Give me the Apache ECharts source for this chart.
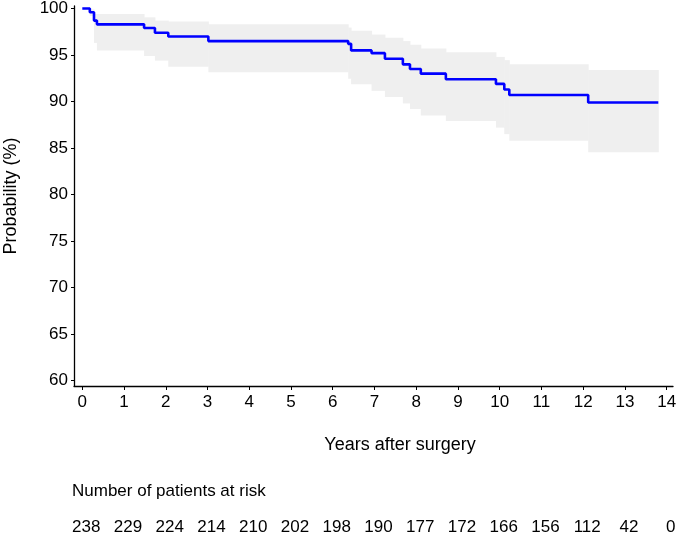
<!DOCTYPE html>
<html>
<head>
<meta charset="utf-8">
<script src="https://cdn.jsdelivr.net/npm/echarts@6/dist/echarts.min.js"></script>
<style>
  html, body { margin: 0; padding: 0; background: #fff; }
  #chart { width: 680px; height: 534px; }
</style>
</head>
<body>
<div id="chart"></div>
<script>
// Kaplan-Meier estimate, years after surgery
const times = [0, 0.18, 0.28, 0.35, 1.48, 1.74, 2.06, 3.02, 6.37, 6.44, 6.93, 7.25, 7.68, 7.85, 8.11, 8.71, 9.91, 10.11, 10.23, 12.12, 13.80]
const surv = [100, 99.6, 98.7, 98.3, 97.9, 97.4, 97.0, 96.5, 96.2, 95.5, 95.2, 94.6, 94.0, 93.5, 93.0, 92.4, 91.9, 91.3, 90.7, 89.9, 89.9]
// confidence band
const upper = [100, 99.9, 99.4, 99.4, 99.05, 98.7, 98.6, 98.3, 97.95, 97.6, 97.2, 96.85, 96.5, 96.1, 95.7, 95.3, 94.8, 94.45, 94.0, 93.4, 93.4]
const lower = [100, 99.2, 96.3, 95.5, 94.9, 94.4, 93.75, 93.15, 92.45, 91.85, 91.15, 90.5, 89.8, 89.2, 88.5, 87.9, 87.2, 86.5, 85.8, 84.55, 84.55]

// axis ticks
const xTicks = [0, 1, 2, 3, 4, 5, 6, 7, 8, 9, 10, 11, 12, 13, 14]
const yTicks = [60, 65, 70, 75, 80, 85, 90, 95, 100]

// number at risk table
const riskYears = [0, 1, 2, 3, 4, 5, 6, 7, 8, 9, 10, 11, 12, 13, 14]
const atRisk = [238, 229, 224, 214, 210, 202, 198, 190, 177, 172, 166, 156, 112, 42, 0]

const FONT = 'Liberation Sans, Arial, sans-serif'

const chart = echarts.init(document.getElementById('chart'))

// one rectangle per interval between consecutive event times
const bandData = times.slice(0, -1).map((t, i) => [t, times[i + 1], lower[i], upper[i]])

const option = {
  animation: false,
  grid: [
    { left: 74, right: 7, top: 6, bottom: 148, outerBoundsMode: 'none' },
    { left: 74, right: 7, top: 520, height: 14, outerBoundsMode: 'none' }
  ],
  xAxis: [
    {
      type: 'value',
      gridIndex: 0,
      min: -0.199,
      max: 14.152,
      splitLine: { show: false },
      axisLine: { onZero: false, lineStyle: { color: '#000', width: 1.3 } },
      axisTick: { customValues: xTicks, length: 4, lineStyle: { color: '#000' } },
      axisLabel: {
        customValues: xTicks,
        margin: 8,
        color: '#000',
        fontSize: 17,
        fontFamily: FONT
      }
    },
    { type: 'value', gridIndex: 1, min: -0.199, max: 14.152, show: false }
  ],
  yAxis: [
    {
      type: 'value',
      gridIndex: 0,
      min: 59.43,
      max: 100.27,
      name: 'Probability (%)',
      nameLocation: 'middle',
      nameGap: 54,
      nameMoveOverlap: false,
      nameTextStyle: { color: '#000', fontSize: 18, fontFamily: FONT },
      splitLine: { show: false },
      axisLine: { show: true, onZero: false, lineStyle: { color: '#000', width: 1.3 } },
      axisTick: { show: true, customValues: yTicks, length: 3, lineStyle: { color: '#000' } },
      axisLabel: {
        customValues: yTicks,
        margin: 6,
        color: '#000',
        fontSize: 17,
        fontFamily: FONT
      }
    },
    { type: 'value', gridIndex: 1, min: 0, max: 1, show: false }
  ],
  graphic: [
    {
      type: 'text',
      x: 400,
      y: 445,
      style: {
        text: 'Years after surgery',
        fill: '#000',
        font: '18px ' + FONT,
        textAlign: 'center',
        textVerticalAlign: 'middle'
      }
    },
    {
      type: 'text',
      x: 72,
      y: 491,
      style: {
        text: 'Number of patients at risk',
        fill: '#000',
        font: '17px ' + FONT,
        textAlign: 'left',
        textVerticalAlign: 'middle'
      }
    }
  ],
  series: [
    {
      type: 'custom',
      name: 'band',
      silent: true,
      data: bandData,
      encode: { x: [0, 1], y: [2, 3] },
      renderItem: (params, api) => {
        const p0 = api.coord([api.value(0), api.value(3)])
        const p1 = api.coord([api.value(1), api.value(2)])
        return {
          type: 'rect',
          shape: { x: p0[0], y: p0[1], width: p1[0] - p0[0] + 0.5, height: p1[1] - p0[1] },
          style: { fill: '#efefef' }
        }
      },
      z: 1
    },
    {
      type: 'line',
      name: 'survival',
      step: 'end',
      symbol: 'none',
      lineStyle: { color: '#0000ff', width: 2.6 },
      data: times.map((t, i) => [t, surv[i]]),
      z: 5
    },
    {
      type: 'custom',
      xAxisIndex: 1,
      yAxisIndex: 1,
      data: riskYears.map((t, i) => [t, 0.5, atRisk[i]]),
      renderItem: (params, api) => {
        const pt = api.coord([api.value(0), api.value(1)])
        return {
          type: 'text',
          x: pt[0] + 4,
          y: pt[1],
          style: {
            text: String(api.value(2)),
            fill: '#000',
            font: '17px ' + FONT,
            textAlign: 'center',
            textVerticalAlign: 'middle'
          }
        }
      }
    }
  ]
}

chart.setOption(option)
</script>
</body>
</html>
